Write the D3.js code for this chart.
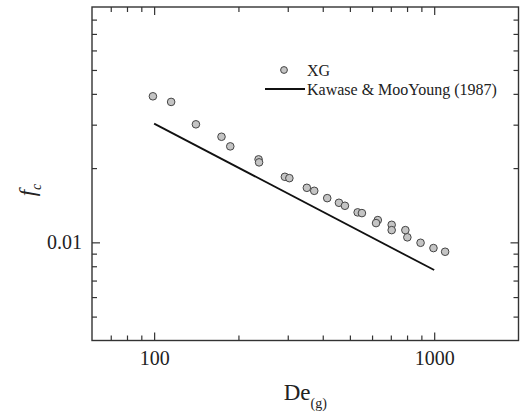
<!DOCTYPE html>
<html>
<head>
<meta charset="utf-8">
<script src="https://cdn.jsdelivr.net/npm/d3@7"></script>
<style>
  html, body { margin: 0; padding: 0; background: #fff; }
  svg { display: block; font-family: "Liberation Serif", "Times New Roman", serif; }
</style>
</head>
<body>
<svg id="chart" width="521" height="417"></svg>
<script>
// ---- data ----
const xgDe = [99, 115, 141, 174, 187, 236, 237, 293, 304, 351, 373, 415, 457, 480, 533, 552, 629, 620, 705, 705, 789, 802, 894, 994, 1094];
const xgFc = [0.0391, 0.0371, 0.0301, 0.0268, 0.0245, 0.0217, 0.0211, 0.01844, 0.01821, 0.01664, 0.01618, 0.01511, 0.01447, 0.01407, 0.01323, 0.01314, 0.01231, 0.01197, 0.01178, 0.01121, 0.01121, 0.01048, 0.00996, 0.00948, 0.00916];
const kmDe = [100, 1000];
const kmFc = [0.0303, 0.00772];
const xTicks = [70, 80, 90, 100, 200, 300, 400, 500, 600, 700, 800, 900, 1000];
const xMajor = [100, 1000];
const yTicks = [0.005, 0.006, 0.007, 0.008, 0.009, 0.01, 0.02, 0.03, 0.04, 0.05, 0.06, 0.07, 0.08];
const yMajor = [0.01];
const legendLabels = ["XG", "Kawase & MooYoung (1987)"];

// ---- layout ----
const svg = d3.select("#chart");
const margin = {left: 92, top: 7, right: 2.5, bottom: 76.5};
const W = 521, H = 417;
const iw = W - margin.left - margin.right;
const ih = H - margin.top - margin.bottom;
const g = svg.append("g").attr("transform", `translate(${margin.left},${margin.top})`);

const x = d3.scaleLog().domain([60, 2000]).range([0, iw]);
const y = d3.scaleLog().domain([0.004, 0.09]).range([ih, 0]);

const axisColor = "#333";
const majLen = 8, minLen = 5;
const isMajX = d => xMajor.includes(d);
const isMajY = d => yMajor.some(m => Math.abs(m - d) < 1e-9);

function styleAxis(sel) {
  sel.select(".domain").remove();
  sel.selectAll(".tick line").attr("stroke", axisColor).attr("stroke-width", 1.2);
}

// bottom
const gb = g.append("g").attr("transform", `translate(0,${ih})`)
  .call(d3.axisBottom(x).tickValues(xTicks).tickSize(-majLen).tickFormat(d => isMajX(d) ? d3.format("d")(d) : ""));
styleAxis(gb);
gb.selectAll(".tick line").attr("y2", d => isMajX(d) ? -majLen : -minLen);
gb.selectAll(".tick text").attr("dy", null).attr("y", 24.5).attr("font-size", 20)
  .attr("fill", "#222").attr("font-family", "Liberation Serif, serif");

// top
const gt = g.append("g")
  .call(d3.axisTop(x).tickValues(xTicks).tickSize(-majLen).tickFormat(""));
styleAxis(gt);
gt.selectAll(".tick line").attr("y2", d => isMajX(d) ? majLen : minLen);

// left
const gl = g.append("g")
  .call(d3.axisLeft(y).tickValues(yTicks).tickSize(-majLen).tickFormat(d => isMajY(d) ? "0.01" : ""));
styleAxis(gl);
gl.selectAll(".tick line").attr("x2", d => isMajY(d) ? majLen : minLen);
gl.selectAll(".tick text").attr("x", -10).attr("dy", "0.32em").attr("font-size", 20)
  .attr("fill", "#222").attr("font-family", "Liberation Serif, serif");

// right
const gr = g.append("g").attr("transform", `translate(${iw},0)`)
  .call(d3.axisRight(y).tickValues(yTicks).tickSize(-majLen).tickFormat(""));
styleAxis(gr);
gr.selectAll(".tick line").attr("x2", d => isMajY(d) ? -majLen : -minLen);

// frame
g.append("rect").attr("x", 0).attr("y", 0).attr("width", iw).attr("height", ih)
  .attr("fill", "none").attr("stroke", axisColor).attr("stroke-width", 1.4);

// correlation line
const line = d3.line().x(d => x(d[0])).y(d => y(d[1]));
g.append("path").datum(kmDe.map((d, i) => [d, kmFc[i]]))
  .attr("d", line).attr("fill", "none").attr("stroke", "#111").attr("stroke-width", 1.8);

// XG points
g.selectAll("circle.pt").data(xgDe.map((d, i) => [d, xgFc[i]])).enter()
  .append("circle").attr("class", "pt")
  .attr("cx", d => x(d[0])).attr("cy", d => y(d[1])).attr("r", 3.8)
  .attr("fill", "#c4c4c4").attr("stroke", "#444").attr("stroke-width", 1);

// legend
const lg = svg.append("g");
lg.append("circle").attr("cx", 284).attr("cy", 70).attr("r", 3.4)
  .attr("fill", "#c4c4c4").attr("stroke", "#444").attr("stroke-width", 1);
lg.append("text").attr("x", 307).attr("y", 75.5).attr("font-size", 16).attr("fill", "#222").text(legendLabels[0]);
lg.append("line").attr("x1", 265).attr("x2", 305).attr("y1", 89).attr("y2", 89)
  .attr("stroke", "#111").attr("stroke-width", 1.8);
lg.append("text").attr("x", 307).attr("y", 94.5).attr("font-size", 16).attr("fill", "#222").text(legendLabels[1]);

// axis titles
const xt = svg.append("text").attr("x", margin.left + iw / 2).attr("y", 400)
  .attr("text-anchor", "middle").attr("font-size", 23).attr("fill", "#222");
xt.append("tspan").text("De");
xt.append("tspan").attr("font-size", 14).attr("dy", 8).text("(g)");

const yt = svg.append("text").attr("transform", "translate(35,190) rotate(-90)")
  .attr("text-anchor", "middle").attr("font-size", 23).attr("fill", "#222");
yt.append("tspan").attr("font-style", "italic").text("f");
yt.append("tspan").attr("font-size", 14).attr("font-style", "italic").attr("dy", 6).text("c");
</script>
</body>
</html>
